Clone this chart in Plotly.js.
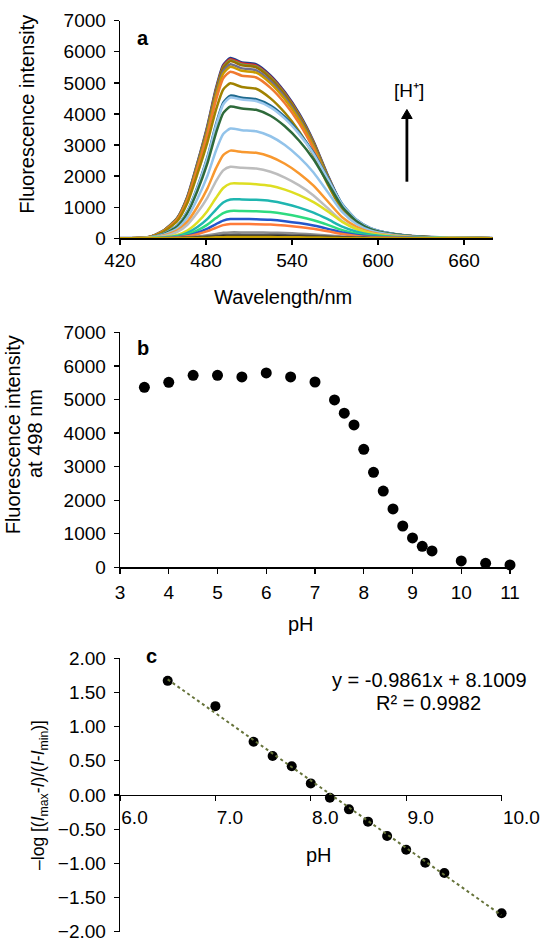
<!DOCTYPE html>
<html><head><meta charset="utf-8">
<script src="https://cdn.plot.ly/plotly-3.0.1.min.js"></script>
<style>html,body{margin:0;padding:0;background:#fff}#chart{width:550px;height:948px}</style>
</head><body><div id="chart"></div>
<script>
// ---------- Panel a: emission spectra ----------
const wavelength = [420,440,450,460,467,474,481,487,492,497,505,515,525,535,545,555,565,575,585,595,610,630,650,680];
const spec5790 = [0,35,232,648,1320,2403,3596,4806,5558,5790,5651,5587,5228,4690,3995,3103,2003,1054,562,301,139,46,17,0];
const spec5760 = [0,35,230,645,1313,2390,3577,4781,5530,5760,5622,5558,5201,4666,3974,3087,1993,1048,559,300,138,46,17,0];
const spec5720 = [0,34,229,641,1304,2374,3552,4748,5491,5720,5583,5520,5165,4633,3947,3066,1979,1041,555,297,137,46,17,0];
const spec5700 = [0,34,228,638,1300,2366,3540,4731,5472,5700,5563,5501,5147,4617,3933,3055,1972,1037,553,296,137,46,17,0];
const spec5600 = [0,34,224,627,1277,2324,3478,4648,5376,5600,5466,5404,5057,4536,3864,3002,1938,1019,543,291,134,45,17,0];
const spec5520 = [0,33,221,618,1259,2291,3428,4582,5299,5520,5388,5327,4985,4471,3809,2959,1910,1005,535,287,132,44,17,0];
const spec5360 = [0,32,214,600,1222,2224,3329,4449,5146,5360,5231,5172,4840,4342,3698,2873,1855,976,520,279,129,43,16,0];
const spec4985 = [0,30,199,558,1137,2069,3096,4138,4786,4985,4865,4811,4501,4038,3440,2672,1725,907,484,259,120,40,15,0];
const spec4590 = [0,23,138,413,872,1652,2616,3672,4361,4590,4521,4475,4269,3902,3397,2754,1928,1102,597,321,147,46,18,0];
const spec4530 = [0,23,136,408,861,1631,2582,3624,4304,4530,4462,4417,4213,3851,3352,2718,1903,1087,589,317,145,45,18,0];
const spec4240 = [0,21,127,382,806,1526,2417,3392,4028,4240,4176,4134,3943,3604,3138,2544,1781,1018,551,297,136,42,17,0];
const spec3530 = [0,18,106,318,671,1271,2012,2824,3354,3530,3477,3442,3283,3001,2612,2118,1483,847,459,247,113,35,14,0];
const spec2820 = [0,14,85,254,536,1015,1607,2256,2679,2820,2778,2750,2623,2397,2087,1692,1184,677,367,197,90,28,11,0];
const spec2300 = [0,12,69,207,437,828,1311,1840,2185,2300,2266,2243,2139,1955,1702,1380,966,552,299,161,74,23,9,0];
const spec1760 = [0,7,35,106,246,510,880,1302,1619,1760,1760,1742,1690,1566,1390,1162,862,528,299,158,70,21,7,0];
const spec1250 = [0,5,25,75,175,363,625,925,1150,1250,1250,1238,1200,1113,988,825,613,375,213,113,50,15,5,0];
const spec880  = [0,4,18,53,123,255,440,651,810,880,880,871,845,783,695,581,431,264,150,79,35,11,4,0];
const spec620  = [0,2,12,37,87,180,310,459,570,620,620,614,595,552,490,409,304,186,105,56,25,7,2,0];
const spec460  = [0,2,9,28,64,133,230,340,423,460,460,455,442,409,363,304,225,138,78,41,18,6,2,0];
const spec190  = [0,1,4,11,27,55,95,141,175,190,190,188,182,169,150,125,93,57,32,17,8,2,1,0];
const spec110  = [0,0,2,7,15,32,55,81,101,110,110,109,106,98,87,73,54,33,19,10,4,1,0,0];
const spec60   = [0,0,1,4,8,17,30,44,55,60,60,59,58,53,47,40,29,18,10,5,2,1,0,0];
const spec40   = [0,0,1,2,6,12,20,30,37,40,40,40,38,36,32,26,20,12,7,4,2,0,0,0];

const spectra = [spec5790,spec5760,spec5720,spec5700,spec5600,spec5520,spec5360,spec4985,spec4590,spec4530,spec4240,spec3530,spec2820,spec2300,spec1760,spec1250,spec880,spec620,spec460,spec190,spec110,spec60,spec40];
const spectraColors = ['#1f3d8c','#e0302a','#5cb85c','#9a7000','#6e6e8e','#c89a00','#f07a30','#a08200','#1f6a8e','#9cc8ee','#2e6a3a','#92c3ea','#f8982f','#bdbdbd','#dede22','#1fb6b0','#2edb80','#2356cc','#ff7b3a','#8f8f8f','#555555','#222222','#c8a000'];

// ---------- Panel b: intensity at 498 nm vs pH ----------
const pH = [3.5,4,4.5,5,5.5,6,6.5,7,7.4,7.6,7.8,8,8.2,8.4,8.6,8.8,9,9.2,9.4,10,10.5,11];
const intensity498 = [5360,5510,5720,5720,5670,5790,5670,5520,4985,4590,4240,3515,2830,2270,1740,1230,874,626,487,190,120,70];

// ---------- Panel c: linearised plot ----------
const pHfit = [6.5,7.0,7.4,7.6,7.8,8.0,8.2,8.4,8.6,8.8,9.0,9.2,9.4,10.0];
const logRatio = [1.67,1.30,0.78,0.57,0.42,0.17,-0.04,-0.21,-0.39,-0.60,-0.80,-0.99,-1.14,-1.73];
const trendX = [6.5,10.0];
const trendY = [1.691,-1.760];
const xTicksA = [420,480,540,600,660];
const xTicksC = [6,7,8,9,10];
const yTicksC = [2,1.5,1,0.5,0,-0.5,-1,-1.5,-2];

const W = 550, H = 948;
const px = v => v / W;
const py = v => 1 - v / H;
const FONT = 'Liberation Sans, Arial, sans-serif';
const tickFont = {family: FONT, size: 19, color: '#000'};

const traces = [];
spectra.forEach((s, i) => {
  traces.push({x: wavelength, y: s, xaxis: 'x', yaxis: 'y', type: 'scatter', mode: 'lines',
    line: {color: spectraColors[i], width: i === 0 ? 3 : 2.5, shape: 'spline', smoothing: 0.6},
    hoverinfo: 'skip', showlegend: false});
});
traces.push({x: pH, y: intensity498, xaxis: 'x2', yaxis: 'y2', type: 'scatter', mode: 'markers',
  marker: {color: '#000', size: 11}, cliponaxis: false, showlegend: false});
traces.push({x: pHfit, y: logRatio, xaxis: 'x3', yaxis: 'y3', type: 'scatter', mode: 'markers',
  marker: {color: '#000', size: 10}, cliponaxis: false, showlegend: false});
traces.push({x: trendX, y: trendY, xaxis: 'x3', yaxis: 'y3', type: 'scatter', mode: 'lines',
  line: {color: '#66733a', width: 2, dash: 'dot'}, cliponaxis: false, showlegend: false});

const axBase = {showgrid: false, zeroline: false, showline: true, linecolor: '#000', linewidth: 1.3,
  ticks: 'outside', ticklen: 5, tickwidth: 1.3, tickcolor: '#000', tickfont: tickFont, fixedrange: true};

const ann = (text, x, y, size, extra) => Object.assign({text, x: px(x), y: py(y), xref: 'paper', yref: 'paper',
  showarrow: false, xanchor: 'center', yanchor: 'middle', font: {family: FONT, size: size, color: '#000'}}, extra || {});
const boldFont = {family: FONT, size: 20, color: '#000', weight: 'bold'};

const yMidC = (py(931.7) + py(658.3)) / 2;

const layout = {
  width: W, height: H, margin: {l: 0, r: 0, t: 0, b: 0}, paper_bgcolor: '#fff', plot_bgcolor: '#fff',
  showlegend: false,
  xaxis: Object.assign({}, axBase, {domain: [px(120), px(492.7)], range: [420, 680], tickvals: xTicksA, anchor: 'y'}),
  yaxis: Object.assign({}, axBase, {domain: [py(238.3), py(20.7)], range: [0, 7000], dtick: 1000, anchor: 'x', ticklabelstandoff: 4}),
  xaxis2: Object.assign({}, axBase, {domain: [px(120), px(510)], range: [3, 11], dtick: 1, anchor: 'y2', ticklabelstandoff: 3}),
  yaxis2: Object.assign({}, axBase, {domain: [py(567.3), py(332.3)], range: [0, 7000], dtick: 1000, anchor: 'x2', ticklabelstandoff: 4}),
  xaxis3: Object.assign({}, axBase, {domain: [px(120), px(501.6)], range: [6, 10], tickvals: xTicksC, tickformat: '.1f',
    anchor: 'free', position: yMidC, ticklabelposition: 'outside right', ticklabelstandoff: 5}),
  yaxis3: Object.assign({}, axBase, {domain: [py(931.7), py(658.3)], range: [-2, 2], tickvals: yTicksC, tickformat: '.2f', anchor: 'x3', ticklabelstandoff: 4,
    title: {text: '–log [(<i>I</i><sub>max</sub>-<i>I</i>)/(<i>I</i>-<i>I</i><sub>min</sub>)]', standoff: 8, font: {family: FONT, size: 17.5, color: '#000'}}}),
  shapes: [
    {type: 'line', xref: 'paper', yref: 'paper', x0: px(406.9), x1: px(406.9), y0: py(181.7), y1: py(117),
      line: {color: '#000', width: 2.8}},
    {type: 'path', xref: 'paper', yref: 'paper',
      path: 'M ' + px(401.6) + ' ' + py(118.5) + ' L ' + px(412.2) + ' ' + py(118.5) + ' L ' + px(406.9) + ' ' + py(109.5) + ' Z',
      fillcolor: '#000', line: {color: '#000', width: 1}}
  ],
  annotations: [
    ann('a', 143.3, 38.3, 20, {font: boldFont}),
    ann('b', 143.3, 348.3, 20, {font: boldFont}),
    ann('c', 151.7, 656, 20, {font: boldFont}),
    ann('Fluorescence intensity', 26.7, 114, 20, {textangle: -90}),
    ann('Wavelength/nm', 283, 296.7, 20),
    ann('Fluorescence intensity', 13.3, 435, 20, {textangle: -90}),
    ann('at 498 nm', 35, 433, 20, {textangle: -90}),
    ann('pH', 301, 624, 20),
    ann('pH', 319, 855, 20),
    ann('y = -0.9861x + 8.1009', 429, 680, 20),
    ann('R² = 0.9982', 428.3, 703.3, 20),
    ann('[H⁺]', 408.6, 90, 19)
  ]
};

Plotly.newPlot('chart', traces, layout, {staticPlot: true, displayModeBar: false});
</script></body></html>
